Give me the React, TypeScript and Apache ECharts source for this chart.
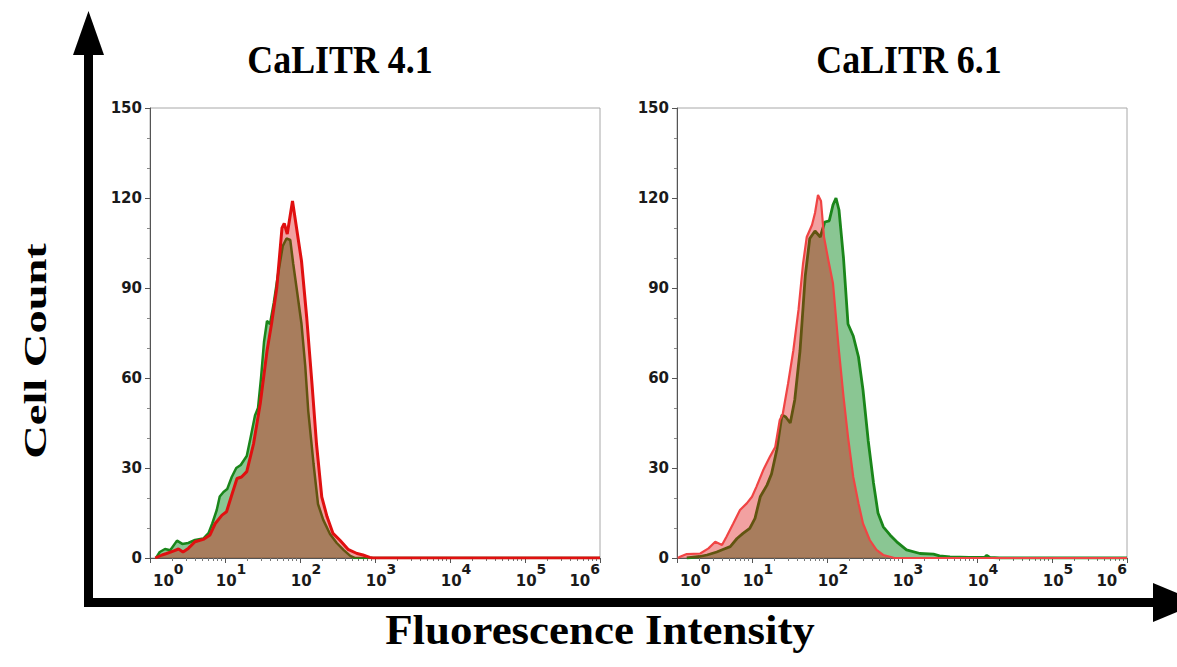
import React, { useEffect, useRef } from 'react';
import * as echarts from 'echarts';

// ---------- data (x as decade exponent on the log axis, y as cell count) ----------
const titles = ['CaLITR 4.1', 'CaLITR 6.1'];
const yTicks = [0, 30, 60, 90, 120, 150];
const decades = [0, 1, 2, 3, 4, 5, 6];
const minorMultipliers = [2, 3, 4, 5, 6, 7, 8, 9];

const leftGreenExp = [0.08, 0.13, 0.2, 0.27, 0.36, 0.43, 0.51, 0.6, 0.71, 0.78, 0.83, 0.89, 0.93, 0.98, 1.03, 1.09, 1.15, 1.21, 1.29, 1.34, 1.4, 1.44, 1.48, 1.52, 1.56, 1.6, 1.65, 1.71, 1.77, 1.82, 1.87, 1.91, 1.96, 2.02, 2.07, 2.11, 2.18, 2.24, 2.31, 2.4, 2.49, 2.58, 2.67, 2.73, 6];
const leftGreenCount = [0, 2, 3, 2.6, 5.8, 4.7, 5, 6, 6.5, 8.3, 11.5, 16, 20.5, 22, 23, 27, 30, 31, 34, 40, 47.5, 50, 60, 72, 79, 78, 85, 95, 104, 106.5, 106, 98, 89, 78, 64, 49, 31.5, 18, 12.7, 8, 5, 2.7, 0.7, 0, 0];

const leftRedExp = [0.07, 0.16, 0.22, 0.31, 0.38, 0.44, 0.51, 0.6, 0.71, 0.8, 0.87, 0.96, 1.02, 1.09, 1.16, 1.22, 1.29, 1.38, 1.47, 1.56, 1.62, 1.69, 1.76, 1.79, 1.83, 1.9, 1.96, 2.02, 2.09, 2.16, 2.22, 2.29, 2.36, 2.44, 2.53, 2.64, 2.76, 2.84, 2.93, 2.97, 6];
const leftRedCount = [0, 1, 1.5, 2.3, 3, 2, 3.2, 5.4, 6.2, 7.7, 11.5, 14.3, 15.4, 21, 26.5, 27, 28.8, 38, 51.5, 69, 78, 90, 110, 111.5, 108, 119, 109, 99, 80, 58, 38, 20.4, 13.8, 8.2, 6, 2.9, 1.5, 1, 0.2, 0, 0];

const rightGreenExp = [0.13, 0.3, 0.4, 0.53, 0.62, 0.71, 0.8, 0.88, 0.97, 1.04, 1.11, 1.2, 1.26, 1.33, 1.4, 1.45, 1.51, 1.57, 1.64, 1.71, 1.77, 1.84, 1.91, 1.97, 2.03, 2.08, 2.12, 2.16, 2.22, 2.28, 2.35, 2.42, 2.48, 2.55, 2.62, 2.68, 2.75, 2.84, 2.93, 3.06, 3.24, 3.42, 3.5, 3.64, 3.9, 4.1, 4.13, 4.17, 4.3, 6];
const rightGreenCount = [0, 0.5, 1, 2, 2.9, 3.8, 6.5, 8.2, 9.9, 13.2, 20.4, 24.3, 28, 36, 47.7, 47, 45, 52.7, 69, 94, 106.5, 109, 107, 112, 112.4, 117.7, 120, 116, 100, 78, 74, 67, 56, 39, 25, 15, 10.4, 7.7, 5.4, 2.7, 1.5, 1.3, 0.7, 0.4, 0.2, 0.2, 0.9, 0.2, 0, 0];

const rightRedExp = [0.01, 0.04, 0.13, 0.31, 0.42, 0.51, 0.6, 0.66, 0.75, 0.84, 0.93, 1.0, 1.06, 1.15, 1.24, 1.31, 1.37, 1.41, 1.48, 1.55, 1.62, 1.68, 1.73, 1.8, 1.84, 1.88, 1.92, 1.96, 2.02, 2.08, 2.15, 2.22, 2.28, 2.35, 2.42, 2.48, 2.57, 2.66, 2.75, 2.84, 2.9, 6];
const rightRedCount = [0, 0.4, 1.3, 1.5, 3.2, 5.4, 4.3, 7.1, 11.5, 16, 18.2, 20.4, 23.8, 29.3, 33.8, 37, 46, 48, 58, 69, 82.7, 98, 107, 111, 115, 121, 119, 107, 99, 91.5, 71.5, 53.8, 40.4, 27, 18.2, 11.5, 6, 2.7, 1, 0.4, 0, 0];

const panels = [
  { green: [leftGreenExp, leftGreenCount], red: [leftRedExp, leftRedCount], redLine: '#e01010', redWidth: 3, greenWidth: 2.5 },
  { green: [rightGreenExp, rightGreenCount], red: [rightRedExp, rightRedCount], redLine: '#f04444', redWidth: 2.2, greenWidth: 2.8 },
];

// ---------- layout / style ----------
const GRID_LEFTS = [150, 677];
const GRID_TOP = 108;
const GRID_SIZE = 450;
const TITLE_X = [340, 909];
const LABEL_FONT = 'DejaVu Sans';
const SERIF = '"Liberation Serif", "Times New Roman", serif';
const INK = '#1a1a1a';

function toPoints(exp: number[], count: number[]) {
  return exp.map((e, i) => [Math.pow(10, e), count[i]]);
}

export default function App() {
  const ref = useRef<HTMLDivElement>(null);

  useEffect(() => {
    if (!ref.current) return;
    const chart = echarts.init(ref.current, null, { renderer: 'svg' });

    const minorValues: number[] = [];
    decades.slice(0, -1).forEach((d) => minorMultipliers.forEach((m) => minorValues.push(m * Math.pow(10, d))));

    const grids = GRID_LEFTS.map((left) => ({
      left, top: GRID_TOP, width: GRID_SIZE, height: GRID_SIZE,
      show: true, borderColor: '#a8a8a8', borderWidth: 1, backgroundColor: 'transparent',
    }));

    const xAxes: any[] = [];
    const yAxes: any[] = [];
    GRID_LEFTS.forEach((_, gi) => {
      xAxes.push({
        type: 'log', logBase: 10, gridIndex: gi, position: 'bottom',
        min: Math.pow(10, decades[0]), max: Math.pow(10, decades[decades.length - 1]),
        axisLine: { show: true, lineStyle: { color: '#555', width: 1 } },
        axisTick: { show: true, length: 5, lineStyle: { color: '#555' } },
        splitLine: { show: false },
        minorTick: { show: false },
        axisLabel: {
          margin: 4,
          alignMinLabel: 'left', alignMaxLabel: 'right',
          formatter: (v: number) => {
            const n = Math.round(Math.log10(v));
            return n === decades[0] ? `{q|}{b|10}{s|${n}}` : `{p|}{b|10}{s|${n}}`;
          },
          rich: {
            b: { fontSize: 15, fontWeight: 'bold', fontFamily: LABEL_FONT, color: INK, lineHeight: 26, verticalAlign: 'bottom' },
            s: { fontSize: 14, fontWeight: 'bold', fontFamily: LABEL_FONT, color: INK, lineHeight: 14, verticalAlign: 'top' },
            p: { width: 12 },
            q: { width: 3 },
          },
        },
      });
      xAxes.push({
        type: 'log', logBase: 10, gridIndex: gi, position: 'bottom',
        min: Math.pow(10, decades[0]), max: Math.pow(10, decades[decades.length - 1]),
        axisLine: { show: false },
        axisTick: { show: true, length: 3, customValues: minorValues, lineStyle: { color: '#777' } },
        axisLabel: { show: false },
        splitLine: { show: false },
      });
      yAxes.push({
        type: 'value', gridIndex: gi, min: yTicks[0], max: yTicks[yTicks.length - 1], interval: yTicks[1] - yTicks[0],
        axisLine: { show: true, lineStyle: { color: '#555', width: 1 } },
        axisTick: { show: true, length: 5, lineStyle: { color: '#555' } },
        minorTick: { show: true, splitNumber: 3, length: 3, lineStyle: { color: '#888' } },
        splitLine: { show: false },
        axisLabel: { margin: 8, fontSize: 15, fontWeight: 'bold', fontFamily: LABEL_FONT, color: INK },
      });
    });

    const series: any[] = [];
    panels.forEach((p, gi) => {
      series.push({
        type: 'line', xAxisIndex: gi * 2, yAxisIndex: gi, showSymbol: false, smooth: false,
        data: toPoints(p.green[0], p.green[1]),
        lineStyle: { color: '#1a861a', width: p.greenWidth },
        areaStyle: { color: 'rgba(0,130,20,0.46)', opacity: 1 },
        z: 2,
      });
      series.push({
        type: 'line', xAxisIndex: gi * 2, yAxisIndex: gi, showSymbol: false, smooth: false,
        data: toPoints(p.red[0], p.red[1]),
        lineStyle: { color: p.redLine, width: p.redWidth },
        areaStyle: { color: 'rgba(220,0,0,0.37)', opacity: 1 },
        z: 3,
      });
    });

    const graphic: any[] = [
      // big black axes with arrowheads
      { type: 'rect', shape: { x: 84, y: 50, width: 9, height: 557 }, style: { fill: '#000' }, z: 10 },
      { type: 'rect', shape: { x: 84, y: 598, width: 1072, height: 9 }, style: { fill: '#000' }, z: 10 },
      { type: 'polygon', shape: { points: [[73, 55], [88.5, 11], [104, 55]] }, style: { fill: '#000' }, z: 10 },
      { type: 'polygon', shape: { points: [[1153, 583], [1200, 602.5], [1153, 622]] }, style: { fill: '#000' }, z: 10 },
      // panel titles
      ...titles.map((t, i) => ({
        type: 'text', x: TITLE_X[i], y: 60, scaleX: 0.92, z: 10,
        style: { text: t, font: `bold 39px ${SERIF}`, fill: '#000', textAlign: 'center', textVerticalAlign: 'middle' },
      })),
      // axis titles
      {
        type: 'text', x: 600, y: 630, scaleX: 1.07, z: 10,
        style: { text: 'Fluorescence Intensity', font: `bold 42px ${SERIF}`, fill: '#000', textAlign: 'center', textVerticalAlign: 'middle' },
      },
      {
        type: 'text', x: 36, y: 351, rotation: Math.PI / 2, scaleX: 1.5, z: 10,
        style: { text: 'Cell Count', font: `bold 31px ${SERIF}`, fill: '#000', textAlign: 'center', textVerticalAlign: 'middle' },
      },
    ];

    chart.setOption({
      animation: false,
      backgroundColor: '#fff',
      grid: grids,
      xAxis: xAxes,
      yAxis: yAxes,
      series,
      graphic,
    });

    return () => chart.dispose();
  }, []);

  return <div ref={ref} style={{ position: 'fixed', left: 0, top: 0, width: 1177, height: 667 }} />;
}
